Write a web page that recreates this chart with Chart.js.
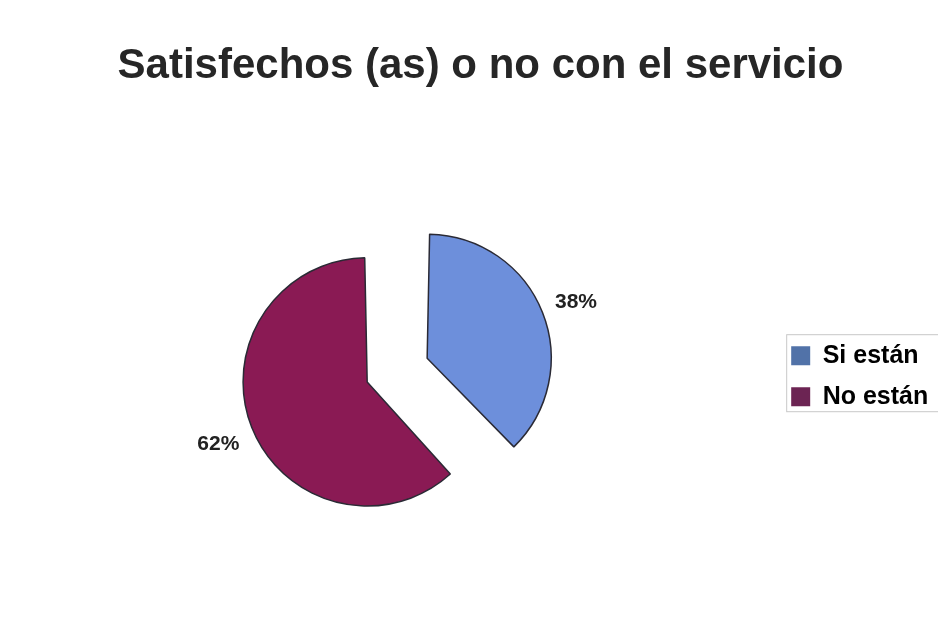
<!DOCTYPE html>
<html>
<head>
<meta charset="utf-8">
<script src="https://cdn.jsdelivr.net/npm/chart.js@4.4.1/dist/chart.umd.min.js"></script>
<style>
  html, body { margin: 0; padding: 0; background: #fff; overflow: hidden; }
  #wrap { width: 950px; height: 629px; position: relative; margin-left: -12px; }
</style>
</head>
<body>
<div id="wrap"><canvas id="pie"></canvas></div>
<script>
const titleText = 'Satisfechos (as) o no con el servicio';
const categories = ['Si están', 'No están'];
const values = [38, 62];
const sliceColors = ['#6d8fdb', '#8a1a54'];
const legendColors = ['#5172a8', '#6c2453'];

// how far each slice is pulled out (chart.js moves arcs by offset / 4)
const sliceOffsets = [196, 62];

// outward push of an arc and its extra radius, as chart.js draws it
function arcShift(arc) {
  const t = (arc.options.offset || 0) / 4;
  const circ = arc.endAngle - arc.startAngle;
  const fix = 1 - Math.sin(Math.min(Math.PI, circ));
  return { t, grow: t * fix };
}

// percentage labels outside each slice
const pctLabels = {
  id: 'pctLabels',
  afterDatasetsDraw(chart) {
    const ctx = chart.ctx;
    const meta = chart.getDatasetMeta(0);
    const total = values.reduce((a, b) => a + b, 0);
    ctx.save();
    ctx.font = 'bold 21px "Liberation Sans", Arial, sans-serif';
    ctx.fillStyle = '#222';
    ctx.textAlign = 'center';
    ctx.textBaseline = 'middle';
    meta.data.forEach((arc, i) => {
      const mid = (arc.startAngle + arc.endAngle) / 2;
      const s = arcShift(arc);
      const d = s.t + arc.outerRadius + s.grow + 36;
      const txt = Math.round(values[i] / total * 100) + '%';
      ctx.fillText(txt, arc.x + Math.cos(mid) * d, arc.y + Math.sin(mid) * d + 3);
    });
    ctx.restore();
  }
};

// thin frame round the legend, running off the right edge
const legendFrame = {
  id: 'legendFrame',
  afterDraw(chart) {
    const boxes = chart.legend && chart.legend.legendHitBoxes;
    if (!boxes || !boxes.length) return;
    const first = boxes[0], last = boxes[boxes.length - 1];
    const ctx = chart.ctx;
    ctx.save();
    ctx.strokeStyle = '#c8c8c8';
    ctx.lineWidth = 1;
    ctx.strokeRect(first.left - 4.5, first.top - 8.5, 200, (last.top + last.height) - first.top + 11);
    ctx.restore();
  }
};

new Chart(document.getElementById('pie'), {
  type: 'pie',
  data: {
    labels: categories,
    datasets: [{
      data: values,
      backgroundColor: sliceColors,
      borderColor: '#2a2a35',
      borderWidth: 1.5,
      offset: sliceOffsets,
      hoverOffset: 0
    }]
  },
  options: {
    responsive: true,
    maintainAspectRatio: false,
    animation: false,
    radius: 108.6,
    layout: { padding: { left: 0, right: -35, top: 0, bottom: 7 } },
    plugins: {
      title: {
        display: true,
        text: titleText,
        color: '#262626',
        font: { family: '"Liberation Sans", Arial, sans-serif', size: 42, weight: 'bold' },
        padding: { top: 41, bottom: 39 }
      },
      legend: {
        position: 'right',
        fullSize: false,
        labels: {
          boxWidth: 19,
          boxHeight: 19,
          padding: 16,
          color: '#222',
          font: { family: '"Liberation Sans", Arial, sans-serif', size: 25, weight: 'bold' },
          generateLabels(chart) {
            // trailing spaces widen the legend column, which runs off the edge
            return categories.map((c, i) => ({
              text: c + '     ',
              fillStyle: legendColors[i],
              strokeStyle: legendColors[i],
              lineWidth: 0,
              hidden: false,
              index: i
            }));
          }
        }
      },
      tooltip: { enabled: false }
    }
  },
  plugins: [pctLabels, legendFrame]
});
</script>
</body>
</html>
